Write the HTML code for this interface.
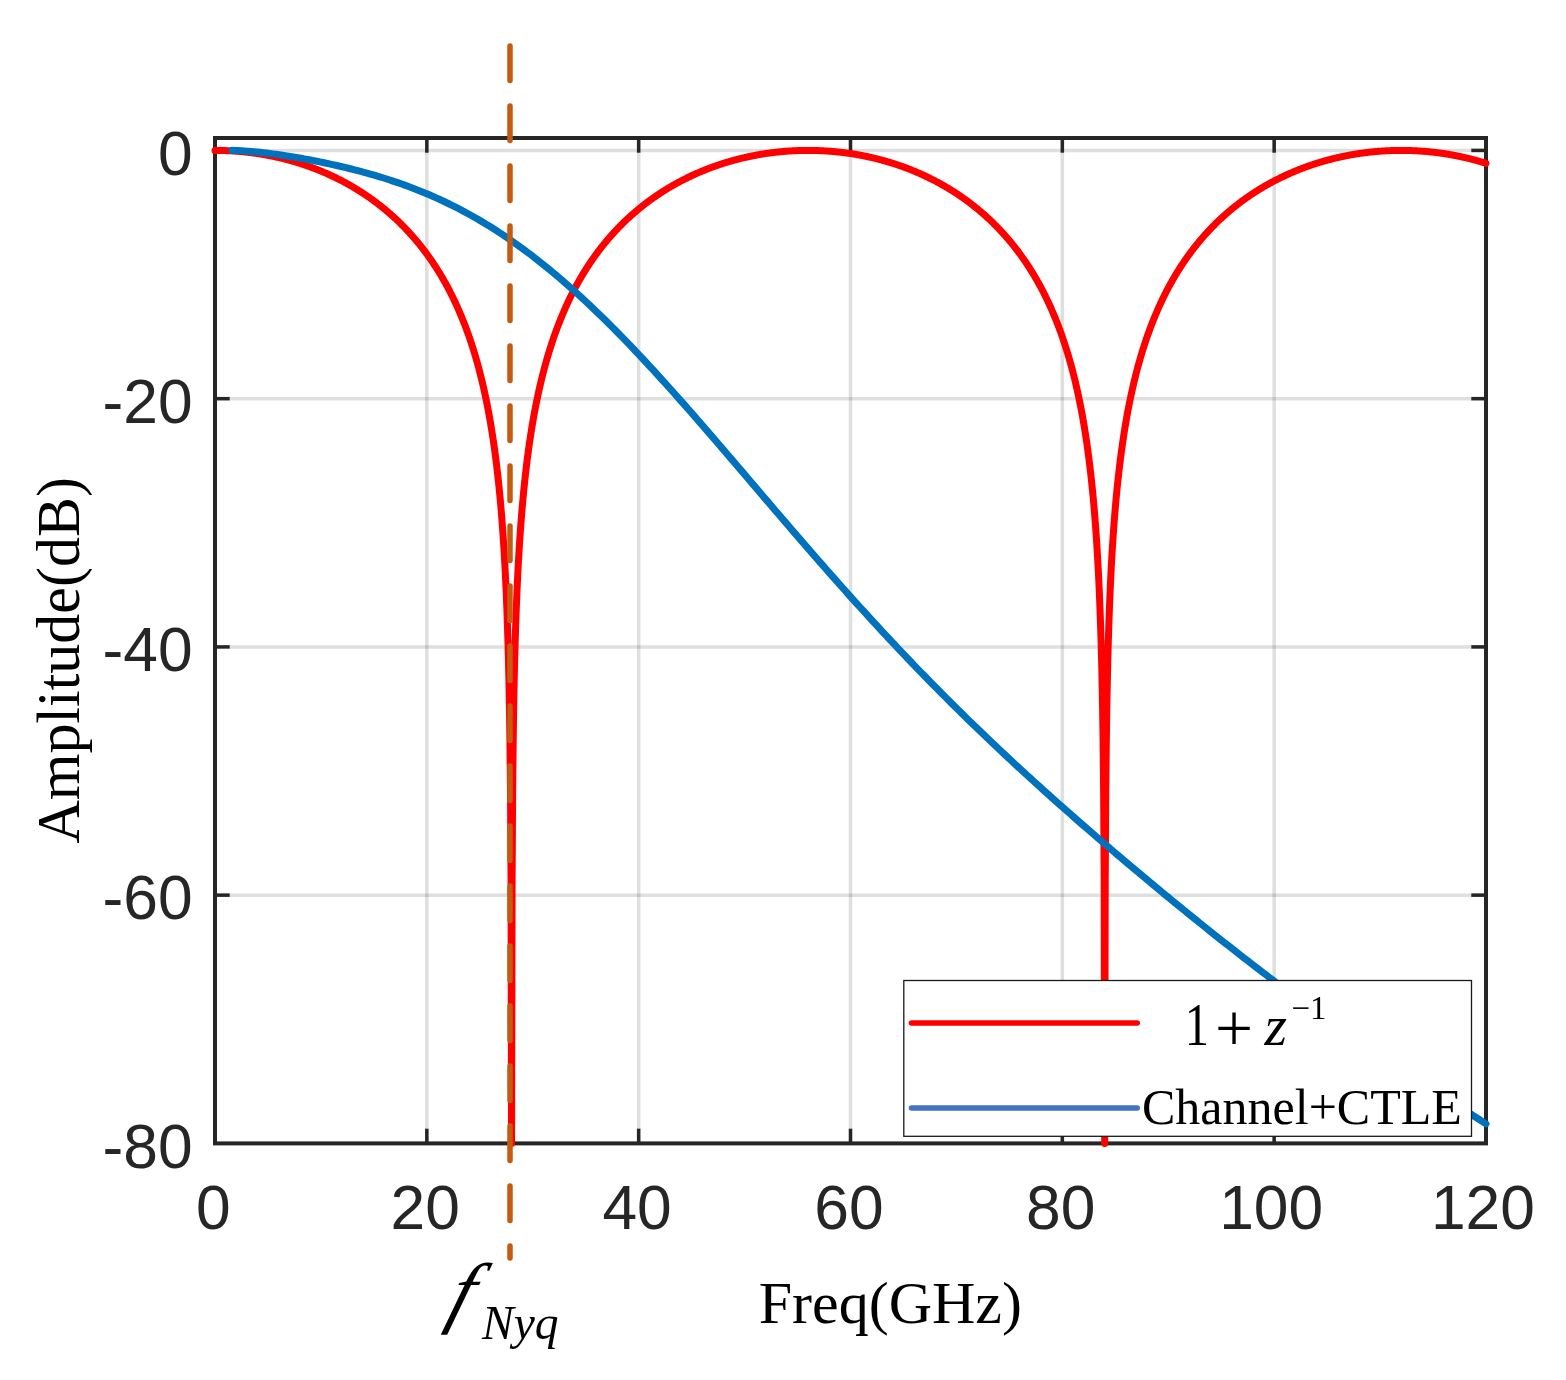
<!DOCTYPE html>
<html><head><meta charset="utf-8"><title>Frequency response</title>
<style>html,body{margin:0;padding:0;background:#fff}svg{display:block}</style></head>
<body>
<svg width="1566" height="1380" viewBox="0 0 1566 1380">
<rect width="1566" height="1380" fill="#fff"/>
<g stroke="rgba(38,38,38,0.15)" stroke-width="3.5" fill="none">
<line x1="426.83" y1="138.0" x2="426.83" y2="1143.4"/>
<line x1="638.67" y1="138.0" x2="638.67" y2="1143.4"/>
<line x1="850.50" y1="138.0" x2="850.50" y2="1143.4"/>
<line x1="1062.33" y1="138.0" x2="1062.33" y2="1143.4"/>
<line x1="1274.17" y1="138.0" x2="1274.17" y2="1143.4"/>
<line x1="215.0" y1="150.41" x2="1486.0" y2="150.41"/>
<line x1="215.0" y1="398.66" x2="1486.0" y2="398.66"/>
<line x1="215.0" y1="646.91" x2="1486.0" y2="646.91"/>
<line x1="215.0" y1="895.15" x2="1486.0" y2="895.15"/>
</g>
<g stroke="#262626" stroke-width="3.5" fill="none">
<line x1="426.83" y1="138.0" x2="426.83" y2="152.7"/>
<line x1="426.83" y1="1143.4" x2="426.83" y2="1128.7"/>
<line x1="638.67" y1="138.0" x2="638.67" y2="152.7"/>
<line x1="638.67" y1="1143.4" x2="638.67" y2="1128.7"/>
<line x1="850.50" y1="138.0" x2="850.50" y2="152.7"/>
<line x1="850.50" y1="1143.4" x2="850.50" y2="1128.7"/>
<line x1="1062.33" y1="138.0" x2="1062.33" y2="152.7"/>
<line x1="1062.33" y1="1143.4" x2="1062.33" y2="1128.7"/>
<line x1="1274.17" y1="138.0" x2="1274.17" y2="152.7"/>
<line x1="1274.17" y1="1143.4" x2="1274.17" y2="1128.7"/>
<line x1="215.0" y1="150.41" x2="229.7" y2="150.41"/>
<line x1="1486.0" y1="150.41" x2="1471.3" y2="150.41"/>
<line x1="215.0" y1="398.66" x2="229.7" y2="398.66"/>
<line x1="1486.0" y1="398.66" x2="1471.3" y2="398.66"/>
<line x1="215.0" y1="646.91" x2="229.7" y2="646.91"/>
<line x1="1486.0" y1="646.91" x2="1471.3" y2="646.91"/>
<line x1="215.0" y1="895.15" x2="229.7" y2="895.15"/>
<line x1="1486.0" y1="895.15" x2="1471.3" y2="895.15"/>
</g>
<rect x="215.0" y="138.0" width="1271.0" height="1005.4000000000001" fill="none" stroke="#262626" stroke-width="4"/>
<path d="M215.00,150.41 L215.53,150.41 L216.06,150.41 L216.59,150.42 L217.12,150.42 L217.65,150.42 L218.18,150.43 L218.71,150.44 L219.24,150.44 L219.77,150.45 L220.30,150.46 L220.83,150.47 L221.35,150.48 L221.88,150.49 L222.41,150.51 L222.94,150.52 L223.47,150.54 L224.00,150.55 L224.53,150.57 L225.06,150.59 L225.59,150.61 L226.12,150.63 L226.65,150.65 L227.18,150.67 L227.71,150.69 L228.24,150.72 L228.77,150.74 L229.30,150.77 L229.83,150.80 L230.36,150.82 L230.89,150.85 L231.42,150.88 L231.95,150.91 L232.48,150.94 L233.01,150.98 L233.54,151.01 L234.06,151.05 L234.59,151.08 L235.12,151.12 L235.65,151.16 L236.18,151.20 L236.71,151.23 L237.24,151.28 L237.77,151.32 L238.30,151.36 L238.83,151.40 L239.36,151.45 L239.89,151.49 L240.42,151.54 L240.95,151.59 L241.48,151.64 L242.01,151.69 L242.54,151.74 L243.07,151.79 L243.60,151.84 L244.13,151.90 L244.66,151.95 L245.19,152.01 L245.72,152.06 L246.25,152.12 L246.78,152.18 L247.30,152.24 L247.83,152.30 L248.36,152.36 L248.89,152.42 L249.42,152.49 L249.95,152.55 L250.48,152.62 L251.01,152.68 L251.54,152.75 L252.07,152.82 L252.60,152.89 L253.13,152.96 L253.66,153.03 L254.19,153.11 L254.72,153.18 L255.25,153.25 L255.78,153.33 L256.31,153.41 L256.84,153.49 L257.37,153.56 L257.90,153.64 L258.43,153.73 L258.96,153.81 L259.49,153.89 L260.01,153.97 L260.54,154.06 L261.07,154.15 L261.60,154.23 L262.13,154.32 L262.66,154.41 L263.19,154.50 L263.72,154.59 L264.25,154.68 L264.78,154.78 L265.31,154.87 L265.84,154.97 L266.37,155.06 L266.90,155.16 L267.43,155.26 L267.96,155.36 L268.49,155.46 L269.02,155.56 L269.55,155.67 L270.08,155.77 L270.61,155.88 L271.14,155.98 L271.67,156.09 L272.19,156.20 L272.72,156.31 L273.25,156.42 L273.78,156.53 L274.31,156.64 L274.84,156.75 L275.37,156.87 L275.90,156.99 L276.43,157.10 L276.96,157.22 L277.49,157.34 L278.02,157.46 L278.55,157.58 L279.08,157.70 L279.61,157.83 L280.14,157.95 L280.67,158.08 L281.20,158.20 L281.73,158.33 L282.26,158.46 L282.79,158.59 L283.32,158.72 L283.85,158.85 L284.38,158.99 L284.90,159.12 L285.43,159.26 L285.96,159.39 L286.49,159.53 L287.02,159.67 L287.55,159.81 L288.08,159.95 L288.61,160.10 L289.14,160.24 L289.67,160.38 L290.20,160.53 L290.73,160.68 L291.26,160.83 L291.79,160.98 L292.32,161.13 L292.85,161.28 L293.38,161.43 L293.91,161.58 L294.44,161.74 L294.97,161.90 L295.50,162.05 L296.03,162.21 L296.56,162.37 L297.09,162.53 L297.62,162.70 L298.14,162.86 L298.67,163.02 L299.20,163.19 L299.73,163.36 L300.26,163.52 L300.79,163.69 L301.32,163.86 L301.85,164.04 L302.38,164.21 L302.91,164.38 L303.44,164.56 L303.97,164.74 L304.50,164.91 L305.03,165.09 L305.56,165.27 L306.09,165.46 L306.62,165.64 L307.15,165.82 L307.68,166.01 L308.21,166.20 L308.74,166.38 L309.27,166.57 L309.80,166.76 L310.32,166.96 L310.85,167.15 L311.38,167.34 L311.91,167.54 L312.44,167.73 L312.97,167.93 L313.50,168.13 L314.03,168.33 L314.56,168.54 L315.09,168.74 L315.62,168.94 L316.15,169.15 L316.68,169.36 L317.21,169.57 L317.74,169.78 L318.27,169.99 L318.80,170.20 L319.33,170.41 L319.86,170.63 L320.39,170.85 L320.92,171.06 L321.45,171.28 L321.98,171.50 L322.51,171.73 L323.04,171.95 L323.56,172.18 L324.09,172.40 L324.62,172.63 L325.15,172.86 L325.68,173.09 L326.21,173.32 L326.74,173.55 L327.27,173.79 L327.80,174.02 L328.33,174.26 L328.86,174.50 L329.39,174.74 L329.92,174.98 L330.45,175.23 L330.98,175.47 L331.51,175.72 L332.04,175.97 L332.57,176.22 L333.10,176.47 L333.63,176.72 L334.16,176.97 L334.69,177.23 L335.22,177.48 L335.75,177.74 L336.27,178.00 L336.80,178.26 L337.33,178.53 L337.86,178.79 L338.39,179.06 L338.92,179.32 L339.45,179.59 L339.98,179.86 L340.51,180.14 L341.04,180.41 L341.57,180.68 L342.10,180.96 L342.63,181.24 L343.16,181.52 L343.69,181.80 L344.22,182.08 L344.75,182.37 L345.28,182.66 L345.81,182.94 L346.34,183.23 L346.87,183.53 L347.40,183.82 L347.93,184.11 L348.46,184.41 L348.98,184.71 L349.51,185.01 L350.04,185.31 L350.57,185.61 L351.10,185.92 L351.63,186.22 L352.16,186.53 L352.69,186.84 L353.22,187.16 L353.75,187.47 L354.28,187.79 L354.81,188.10 L355.34,188.42 L355.87,188.74 L356.40,189.07 L356.93,189.39 L357.46,189.72 L357.99,190.04 L358.52,190.37 L359.05,190.71 L359.58,191.04 L360.11,191.38 L360.64,191.71 L361.17,192.05 L361.69,192.39 L362.22,192.74 L362.75,193.08 L363.28,193.43 L363.81,193.78 L364.34,194.13 L364.87,194.48 L365.40,194.84 L365.93,195.20 L366.46,195.55 L366.99,195.92 L367.52,196.28 L368.05,196.64 L368.58,197.01 L369.11,197.38 L369.64,197.75 L370.17,198.13 L370.70,198.50 L371.23,198.88 L371.76,199.26 L372.29,199.64 L372.82,200.02 L373.35,200.41 L373.88,200.80 L374.40,201.19 L374.93,201.58 L375.46,201.98 L375.99,202.38 L376.52,202.78 L377.05,203.18 L377.58,203.58 L378.11,203.99 L378.64,204.40 L379.17,204.81 L379.70,205.22 L380.23,205.64 L380.76,206.06 L381.29,206.48 L381.82,206.90 L382.35,207.32 L382.88,207.75 L383.41,208.18 L383.94,208.62 L384.47,209.05 L385.00,209.49 L385.53,209.93 L386.06,210.37 L386.59,210.82 L387.11,211.27 L387.64,211.72 L388.17,212.17 L388.70,212.63 L389.23,213.08 L389.76,213.55 L390.29,214.01 L390.82,214.48 L391.35,214.95 L391.88,215.42 L392.41,215.89 L392.94,216.37 L393.47,216.85 L394.00,217.33 L394.53,217.82 L395.06,218.31 L395.59,218.80 L396.12,219.30 L396.65,219.80 L397.18,220.30 L397.71,220.80 L398.24,221.31 L398.77,221.82 L399.30,222.33 L399.82,222.85 L400.35,223.37 L400.88,223.89 L401.41,224.42 L401.94,224.94 L402.47,225.48 L403.00,226.01 L403.53,226.55 L404.06,227.09 L404.59,227.64 L405.12,228.19 L405.65,228.74 L406.18,229.30 L406.71,229.86 L407.24,230.42 L407.77,230.98 L408.30,231.55 L408.83,232.13 L409.36,232.71 L409.89,233.29 L410.42,233.87 L410.95,234.46 L411.48,235.05 L412.00,235.65 L412.53,236.25 L413.06,236.85 L413.59,237.46 L414.12,238.07 L414.65,238.69 L415.18,239.31 L415.71,239.93 L416.24,240.56 L416.77,241.19 L417.30,241.83 L417.83,242.47 L418.36,243.11 L418.89,243.76 L419.42,244.41 L419.95,245.07 L420.48,245.73 L421.01,246.40 L421.54,247.07 L422.07,247.75 L422.60,248.43 L423.13,249.12 L423.66,249.81 L424.19,250.50 L424.72,251.20 L425.24,251.91 L425.77,252.62 L426.30,253.33 L426.83,254.05 L427.36,254.78 L427.89,255.51 L428.42,256.25 L428.95,256.99 L429.48,257.73 L430.01,258.49 L430.54,259.24 L431.07,260.01 L431.60,260.78 L432.13,261.55 L432.66,262.33 L433.19,263.12 L433.72,263.91 L434.25,264.71 L434.78,265.52 L435.31,266.33 L435.84,267.15 L436.37,267.97 L436.90,268.80 L437.43,269.64 L437.95,270.48 L438.48,271.33 L439.01,272.19 L439.54,273.06 L440.07,273.93 L440.60,274.81 L441.13,275.69 L441.66,276.58 L442.19,277.49 L442.72,278.39 L443.25,279.31 L443.78,280.23 L444.31,281.16 L444.84,282.10 L445.37,283.05 L445.90,284.01 L446.43,284.97 L446.96,285.95 L447.49,286.93 L448.02,287.92 L448.55,288.92 L449.08,289.93 L449.61,290.94 L450.13,291.97 L450.66,293.01 L451.19,294.05 L451.72,295.11 L452.25,296.18 L452.78,297.25 L453.31,298.34 L453.84,299.44 L454.37,300.55 L454.90,301.67 L455.43,302.80 L455.96,303.94 L456.49,305.09 L457.02,306.26 L457.55,307.44 L458.08,308.63 L458.61,309.83 L459.14,311.04 L459.67,312.27 L460.20,313.51 L460.73,314.77 L461.26,316.04 L461.79,317.32 L462.32,318.61 L462.85,319.93 L463.37,321.25 L463.90,322.60 L464.43,323.95 L464.96,325.33 L465.49,326.72 L466.02,328.12 L466.55,329.55 L467.08,330.99 L467.61,332.45 L468.14,333.92 L468.67,335.42 L469.20,336.94 L469.73,338.47 L470.26,340.03 L470.79,341.60 L471.32,343.20 L471.85,344.82 L472.38,346.46 L472.91,348.13 L473.44,349.82 L473.97,351.53 L474.50,353.27 L475.03,355.03 L475.56,356.82 L476.08,358.64 L476.61,360.48 L477.14,362.35 L477.67,364.26 L478.20,366.19 L478.73,368.16 L479.26,370.16 L479.79,372.19 L480.32,374.25 L480.85,376.36 L481.38,378.50 L481.91,380.68 L482.44,382.89 L482.97,385.15 L483.50,387.46 L484.03,389.80 L484.56,392.20 L485.09,394.64 L485.62,397.13 L486.15,399.67 L486.68,402.27 L487.21,404.93 L487.74,407.64 L488.26,410.41 L488.79,413.25 L489.32,416.16 L489.85,419.14 L490.38,422.19 L490.91,425.32 L491.44,428.53 L491.97,431.83 L492.50,435.22 L493.03,438.70 L493.56,442.29 L494.09,445.98 L494.62,449.79 L495.15,453.72 L495.68,457.78 L496.21,461.98 L496.74,466.33 L497.27,470.83 L497.80,475.51 L498.33,480.37 L498.86,485.43 L499.39,490.70 L499.92,496.21 L500.45,501.98 L500.98,508.03 L501.50,514.39 L502.03,521.10 L502.56,528.18 L503.09,535.70 L503.62,543.71 L504.15,552.27 L504.68,561.46 L505.21,571.39 L505.74,582.19 L506.27,594.02 L506.80,607.09 L507.33,621.71 L507.86,638.28 L508.39,657.41 L508.92,680.04 L509.45,707.74 L509.98,743.44 L510.51,793.77 L511.04,879.81 L511.57,1143.40 L512.10,879.81 L512.63,793.77 L513.16,743.44 L513.69,707.74 L514.21,680.04 L514.74,657.41 L515.27,638.28 L515.80,621.71 L516.33,607.09 L516.86,594.02 L517.39,582.19 L517.92,571.39 L518.45,561.46 L518.98,552.27 L519.51,543.71 L520.04,535.70 L520.57,528.18 L521.10,521.10 L521.63,514.39 L522.16,508.03 L522.69,501.98 L523.22,496.21 L523.75,490.70 L524.28,485.43 L524.81,480.37 L525.34,475.51 L525.87,470.83 L526.39,466.33 L526.92,461.98 L527.45,457.78 L527.98,453.72 L528.51,449.79 L529.04,445.98 L529.57,442.29 L530.10,438.70 L530.63,435.22 L531.16,431.83 L531.69,428.53 L532.22,425.32 L532.75,422.19 L533.28,419.14 L533.81,416.16 L534.34,413.25 L534.87,410.41 L535.40,407.64 L535.93,404.93 L536.46,402.27 L536.99,399.67 L537.52,397.13 L538.05,394.64 L538.58,392.20 L539.11,389.80 L539.63,387.46 L540.16,385.15 L540.69,382.89 L541.22,380.68 L541.75,378.50 L542.28,376.36 L542.81,374.25 L543.34,372.19 L543.87,370.16 L544.40,368.16 L544.93,366.19 L545.46,364.26 L545.99,362.35 L546.52,360.48 L547.05,358.64 L547.58,356.82 L548.11,355.03 L548.64,353.27 L549.17,351.53 L549.70,349.82 L550.23,348.13 L550.76,346.46 L551.29,344.82 L551.82,343.20 L552.34,341.60 L552.87,340.03 L553.40,338.47 L553.93,336.94 L554.46,335.42 L554.99,333.92 L555.52,332.45 L556.05,330.99 L556.58,329.55 L557.11,328.12 L557.64,326.72 L558.17,325.33 L558.70,323.95 L559.23,322.60 L559.76,321.25 L560.29,319.93 L560.82,318.61 L561.35,317.32 L561.88,316.04 L562.41,314.77 L562.94,313.51 L563.47,312.27 L564.00,311.04 L564.52,309.83 L565.05,308.63 L565.58,307.44 L566.11,306.26 L566.64,305.09 L567.17,303.94 L567.70,302.80 L568.23,301.67 L568.76,300.55 L569.29,299.44 L569.82,298.34 L570.35,297.25 L570.88,296.18 L571.41,295.11 L571.94,294.05 L572.47,293.01 L573.00,291.97 L573.53,290.94 L574.06,289.93 L574.59,288.92 L575.12,287.92 L575.65,286.93 L576.18,285.95 L576.71,284.97 L577.24,284.01 L577.76,283.05 L578.29,282.10 L578.82,281.16 L579.35,280.23 L579.88,279.31 L580.41,278.39 L580.94,277.49 L581.47,276.58 L582.00,275.69 L582.53,274.81 L583.06,273.93 L583.59,273.06 L584.12,272.19 L584.65,271.33 L585.18,270.48 L585.71,269.64 L586.24,268.80 L586.77,267.97 L587.30,267.15 L587.83,266.33 L588.36,265.52 L588.89,264.71 L589.42,263.91 L589.94,263.12 L590.47,262.33 L591.00,261.55 L591.53,260.78 L592.06,260.01 L592.59,259.24 L593.12,258.49 L593.65,257.73 L594.18,256.99 L594.71,256.25 L595.24,255.51 L595.77,254.78 L596.30,254.05 L596.83,253.33 L597.36,252.62 L597.89,251.91 L598.42,251.20 L598.95,250.50 L599.48,249.81 L600.01,249.12 L600.54,248.43 L601.07,247.75 L601.60,247.07 L602.13,246.40 L602.65,245.73 L603.18,245.07 L603.71,244.41 L604.24,243.76 L604.77,243.11 L605.30,242.47 L605.83,241.83 L606.36,241.19 L606.89,240.56 L607.42,239.93 L607.95,239.31 L608.48,238.69 L609.01,238.07 L609.54,237.46 L610.07,236.85 L610.60,236.25 L611.13,235.65 L611.66,235.05 L612.19,234.46 L612.72,233.87 L613.25,233.29 L613.78,232.71 L614.31,232.13 L614.84,231.55 L615.37,230.98 L615.89,230.42 L616.42,229.86 L616.95,229.30 L617.48,228.74 L618.01,228.19 L618.54,227.64 L619.07,227.09 L619.60,226.55 L620.13,226.01 L620.66,225.48 L621.19,224.94 L621.72,224.42 L622.25,223.89 L622.78,223.37 L623.31,222.85 L623.84,222.33 L624.37,221.82 L624.90,221.31 L625.43,220.80 L625.96,220.30 L626.49,219.80 L627.02,219.30 L627.55,218.80 L628.08,218.31 L628.60,217.82 L629.13,217.33 L629.66,216.85 L630.19,216.37 L630.72,215.89 L631.25,215.42 L631.78,214.95 L632.31,214.48 L632.84,214.01 L633.37,213.55 L633.90,213.08 L634.43,212.63 L634.96,212.17 L635.49,211.72 L636.02,211.27 L636.55,210.82 L637.08,210.37 L637.61,209.93 L638.14,209.49 L638.67,209.05 L639.20,208.62 L639.73,208.18 L640.26,207.75 L640.79,207.32 L641.31,206.90 L641.84,206.48 L642.37,206.06 L642.90,205.64 L643.43,205.22 L643.96,204.81 L644.49,204.40 L645.02,203.99 L645.55,203.58 L646.08,203.18 L646.61,202.78 L647.14,202.38 L647.67,201.98 L648.20,201.58 L648.73,201.19 L649.26,200.80 L649.79,200.41 L650.32,200.02 L650.85,199.64 L651.38,199.26 L651.91,198.88 L652.44,198.50 L652.97,198.13 L653.50,197.75 L654.02,197.38 L654.55,197.01 L655.08,196.64 L655.61,196.28 L656.14,195.92 L656.67,195.55 L657.20,195.20 L657.73,194.84 L658.26,194.48 L658.79,194.13 L659.32,193.78 L659.85,193.43 L660.38,193.08 L660.91,192.74 L661.44,192.39 L661.97,192.05 L662.50,191.71 L663.03,191.38 L663.56,191.04 L664.09,190.71 L664.62,190.37 L665.15,190.04 L665.68,189.72 L666.21,189.39 L666.73,189.07 L667.26,188.74 L667.79,188.42 L668.32,188.10 L668.85,187.79 L669.38,187.47 L669.91,187.16 L670.44,186.84 L670.97,186.53 L671.50,186.22 L672.03,185.92 L672.56,185.61 L673.09,185.31 L673.62,185.01 L674.15,184.71 L674.68,184.41 L675.21,184.11 L675.74,183.82 L676.27,183.53 L676.80,183.23 L677.33,182.94 L677.86,182.66 L678.39,182.37 L678.92,182.08 L679.44,181.80 L679.97,181.52 L680.50,181.24 L681.03,180.96 L681.56,180.68 L682.09,180.41 L682.62,180.14 L683.15,179.86 L683.68,179.59 L684.21,179.32 L684.74,179.06 L685.27,178.79 L685.80,178.53 L686.33,178.26 L686.86,178.00 L687.39,177.74 L687.92,177.48 L688.45,177.23 L688.98,176.97 L689.51,176.72 L690.04,176.47 L690.57,176.22 L691.10,175.97 L691.62,175.72 L692.15,175.47 L692.68,175.23 L693.21,174.98 L693.74,174.74 L694.27,174.50 L694.80,174.26 L695.33,174.02 L695.86,173.79 L696.39,173.55 L696.92,173.32 L697.45,173.09 L697.98,172.86 L698.51,172.63 L699.04,172.40 L699.57,172.18 L700.10,171.95 L700.63,171.73 L701.16,171.50 L701.69,171.28 L702.22,171.06 L702.75,170.85 L703.28,170.63 L703.81,170.41 L704.34,170.20 L704.86,169.99 L705.39,169.78 L705.92,169.57 L706.45,169.36 L706.98,169.15 L707.51,168.94 L708.04,168.74 L708.57,168.54 L709.10,168.33 L709.63,168.13 L710.16,167.93 L710.69,167.73 L711.22,167.54 L711.75,167.34 L712.28,167.15 L712.81,166.96 L713.34,166.76 L713.87,166.57 L714.40,166.38 L714.93,166.20 L715.46,166.01 L715.99,165.82 L716.52,165.64 L717.05,165.46 L717.57,165.27 L718.10,165.09 L718.63,164.91 L719.16,164.74 L719.69,164.56 L720.22,164.38 L720.75,164.21 L721.28,164.04 L721.81,163.86 L722.34,163.69 L722.87,163.52 L723.40,163.36 L723.93,163.19 L724.46,163.02 L724.99,162.86 L725.52,162.70 L726.05,162.53 L726.58,162.37 L727.11,162.21 L727.64,162.05 L728.17,161.90 L728.70,161.74 L729.23,161.58 L729.75,161.43 L730.28,161.28 L730.81,161.13 L731.34,160.98 L731.87,160.83 L732.40,160.68 L732.93,160.53 L733.46,160.38 L733.99,160.24 L734.52,160.10 L735.05,159.95 L735.58,159.81 L736.11,159.67 L736.64,159.53 L737.17,159.39 L737.70,159.26 L738.23,159.12 L738.76,158.99 L739.29,158.85 L739.82,158.72 L740.35,158.59 L740.88,158.46 L741.41,158.33 L741.94,158.20 L742.47,158.08 L742.99,157.95 L743.52,157.83 L744.05,157.70 L744.58,157.58 L745.11,157.46 L745.64,157.34 L746.17,157.22 L746.70,157.10 L747.23,156.99 L747.76,156.87 L748.29,156.75 L748.82,156.64 L749.35,156.53 L749.88,156.42 L750.41,156.31 L750.94,156.20 L751.47,156.09 L752.00,155.98 L752.53,155.88 L753.06,155.77 L753.59,155.67 L754.12,155.56 L754.65,155.46 L755.17,155.36 L755.70,155.26 L756.23,155.16 L756.76,155.06 L757.29,154.97 L757.82,154.87 L758.35,154.78 L758.88,154.68 L759.41,154.59 L759.94,154.50 L760.47,154.41 L761.00,154.32 L761.53,154.23 L762.06,154.15 L762.59,154.06 L763.12,153.97 L763.65,153.89 L764.18,153.81 L764.71,153.73 L765.24,153.64 L765.77,153.56 L766.30,153.49 L766.83,153.41 L767.36,153.33 L767.88,153.25 L768.41,153.18 L768.94,153.11 L769.47,153.03 L770.00,152.96 L770.53,152.89 L771.06,152.82 L771.59,152.75 L772.12,152.68 L772.65,152.62 L773.18,152.55 L773.71,152.49 L774.24,152.42 L774.77,152.36 L775.30,152.30 L775.83,152.24 L776.36,152.18 L776.89,152.12 L777.42,152.06 L777.95,152.01 L778.48,151.95 L779.01,151.90 L779.54,151.84 L780.07,151.79 L780.60,151.74 L781.12,151.69 L781.65,151.64 L782.18,151.59 L782.71,151.54 L783.24,151.49 L783.77,151.45 L784.30,151.40 L784.83,151.36 L785.36,151.32 L785.89,151.28 L786.42,151.23 L786.95,151.20 L787.48,151.16 L788.01,151.12 L788.54,151.08 L789.07,151.05 L789.60,151.01 L790.13,150.98 L790.66,150.94 L791.19,150.91 L791.72,150.88 L792.25,150.85 L792.78,150.82 L793.31,150.80 L793.83,150.77 L794.36,150.74 L794.89,150.72 L795.42,150.69 L795.95,150.67 L796.48,150.65 L797.01,150.63 L797.54,150.61 L798.07,150.59 L798.60,150.57 L799.13,150.55 L799.66,150.54 L800.19,150.52 L800.72,150.51 L801.25,150.49 L801.78,150.48 L802.31,150.47 L802.84,150.46 L803.37,150.45 L803.90,150.44 L804.43,150.44 L804.96,150.43 L805.49,150.42 L806.02,150.42 L806.54,150.42 L807.07,150.41 L807.60,150.41 L808.13,150.41 L808.66,150.41 L809.19,150.41 L809.72,150.42 L810.25,150.42 L810.78,150.42 L811.31,150.43 L811.84,150.44 L812.37,150.44 L812.90,150.45 L813.43,150.46 L813.96,150.47 L814.49,150.48 L815.02,150.49 L815.55,150.51 L816.08,150.52 L816.61,150.54 L817.14,150.55 L817.67,150.57 L818.20,150.59 L818.73,150.61 L819.25,150.63 L819.78,150.65 L820.31,150.67 L820.84,150.69 L821.37,150.72 L821.90,150.74 L822.43,150.77 L822.96,150.80 L823.49,150.82 L824.02,150.85 L824.55,150.88 L825.08,150.91 L825.61,150.94 L826.14,150.98 L826.67,151.01 L827.20,151.05 L827.73,151.08 L828.26,151.12 L828.79,151.16 L829.32,151.20 L829.85,151.23 L830.38,151.28 L830.91,151.32 L831.44,151.36 L831.96,151.40 L832.49,151.45 L833.02,151.49 L833.55,151.54 L834.08,151.59 L834.61,151.64 L835.14,151.69 L835.67,151.74 L836.20,151.79 L836.73,151.84 L837.26,151.90 L837.79,151.95 L838.32,152.01 L838.85,152.06 L839.38,152.12 L839.91,152.18 L840.44,152.24 L840.97,152.30 L841.50,152.36 L842.03,152.42 L842.56,152.49 L843.09,152.55 L843.62,152.62 L844.15,152.68 L844.67,152.75 L845.20,152.82 L845.73,152.89 L846.26,152.96 L846.79,153.03 L847.32,153.11 L847.85,153.18 L848.38,153.25 L848.91,153.33 L849.44,153.41 L849.97,153.49 L850.50,153.56 L851.03,153.64 L851.56,153.73 L852.09,153.81 L852.62,153.89 L853.15,153.97 L853.68,154.06 L854.21,154.15 L854.74,154.23 L855.27,154.32 L855.80,154.41 L856.33,154.50 L856.86,154.59 L857.38,154.68 L857.91,154.78 L858.44,154.87 L858.97,154.97 L859.50,155.06 L860.03,155.16 L860.56,155.26 L861.09,155.36 L861.62,155.46 L862.15,155.56 L862.68,155.67 L863.21,155.77 L863.74,155.88 L864.27,155.98 L864.80,156.09 L865.33,156.20 L865.86,156.31 L866.39,156.42 L866.92,156.53 L867.45,156.64 L867.98,156.75 L868.51,156.87 L869.04,156.99 L869.57,157.10 L870.09,157.22 L870.62,157.34 L871.15,157.46 L871.68,157.58 L872.21,157.70 L872.74,157.83 L873.27,157.95 L873.80,158.08 L874.33,158.20 L874.86,158.33 L875.39,158.46 L875.92,158.59 L876.45,158.72 L876.98,158.85 L877.51,158.99 L878.04,159.12 L878.57,159.26 L879.10,159.39 L879.63,159.53 L880.16,159.67 L880.69,159.81 L881.22,159.95 L881.75,160.10 L882.27,160.24 L882.80,160.38 L883.33,160.53 L883.86,160.68 L884.39,160.83 L884.92,160.98 L885.45,161.13 L885.98,161.28 L886.51,161.43 L887.04,161.58 L887.57,161.74 L888.10,161.90 L888.63,162.05 L889.16,162.21 L889.69,162.37 L890.22,162.53 L890.75,162.70 L891.28,162.86 L891.81,163.02 L892.34,163.19 L892.87,163.36 L893.40,163.52 L893.93,163.69 L894.46,163.86 L894.99,164.04 L895.51,164.21 L896.04,164.38 L896.57,164.56 L897.10,164.74 L897.63,164.91 L898.16,165.09 L898.69,165.27 L899.22,165.46 L899.75,165.64 L900.28,165.82 L900.81,166.01 L901.34,166.20 L901.87,166.38 L902.40,166.57 L902.93,166.76 L903.46,166.96 L903.99,167.15 L904.52,167.34 L905.05,167.54 L905.58,167.73 L906.11,167.93 L906.64,168.13 L907.17,168.33 L907.70,168.54 L908.22,168.74 L908.75,168.94 L909.28,169.15 L909.81,169.36 L910.34,169.57 L910.87,169.78 L911.40,169.99 L911.93,170.20 L912.46,170.41 L912.99,170.63 L913.52,170.85 L914.05,171.06 L914.58,171.28 L915.11,171.50 L915.64,171.73 L916.17,171.95 L916.70,172.18 L917.23,172.40 L917.76,172.63 L918.29,172.86 L918.82,173.09 L919.35,173.32 L919.88,173.55 L920.41,173.79 L920.93,174.02 L921.46,174.26 L921.99,174.50 L922.52,174.74 L923.05,174.98 L923.58,175.23 L924.11,175.47 L924.64,175.72 L925.17,175.97 L925.70,176.22 L926.23,176.47 L926.76,176.72 L927.29,176.97 L927.82,177.23 L928.35,177.48 L928.88,177.74 L929.41,178.00 L929.94,178.26 L930.47,178.53 L931.00,178.79 L931.53,179.06 L932.06,179.32 L932.59,179.59 L933.12,179.86 L933.64,180.14 L934.17,180.41 L934.70,180.68 L935.23,180.96 L935.76,181.24 L936.29,181.52 L936.82,181.80 L937.35,182.08 L937.88,182.37 L938.41,182.66 L938.94,182.94 L939.47,183.23 L940.00,183.53 L940.53,183.82 L941.06,184.11 L941.59,184.41 L942.12,184.71 L942.65,185.01 L943.18,185.31 L943.71,185.61 L944.24,185.92 L944.77,186.22 L945.30,186.53 L945.83,186.84 L946.35,187.16 L946.88,187.47 L947.41,187.79 L947.94,188.10 L948.47,188.42 L949.00,188.74 L949.53,189.07 L950.06,189.39 L950.59,189.72 L951.12,190.04 L951.65,190.37 L952.18,190.71 L952.71,191.04 L953.24,191.38 L953.77,191.71 L954.30,192.05 L954.83,192.39 L955.36,192.74 L955.89,193.08 L956.42,193.43 L956.95,193.78 L957.48,194.13 L958.01,194.48 L958.54,194.84 L959.06,195.20 L959.59,195.55 L960.12,195.92 L960.65,196.28 L961.18,196.64 L961.71,197.01 L962.24,197.38 L962.77,197.75 L963.30,198.13 L963.83,198.50 L964.36,198.88 L964.89,199.26 L965.42,199.64 L965.95,200.02 L966.48,200.41 L967.01,200.80 L967.54,201.19 L968.07,201.58 L968.60,201.98 L969.13,202.38 L969.66,202.78 L970.19,203.18 L970.72,203.58 L971.25,203.99 L971.77,204.40 L972.30,204.81 L972.83,205.22 L973.36,205.64 L973.89,206.06 L974.42,206.48 L974.95,206.90 L975.48,207.32 L976.01,207.75 L976.54,208.18 L977.07,208.62 L977.60,209.05 L978.13,209.49 L978.66,209.93 L979.19,210.37 L979.72,210.82 L980.25,211.27 L980.78,211.72 L981.31,212.17 L981.84,212.63 L982.37,213.08 L982.90,213.55 L983.43,214.01 L983.96,214.48 L984.48,214.95 L985.01,215.42 L985.54,215.89 L986.07,216.37 L986.60,216.85 L987.13,217.33 L987.66,217.82 L988.19,218.31 L988.72,218.80 L989.25,219.30 L989.78,219.80 L990.31,220.30 L990.84,220.80 L991.37,221.31 L991.90,221.82 L992.43,222.33 L992.96,222.85 L993.49,223.37 L994.02,223.89 L994.55,224.42 L995.08,224.94 L995.61,225.48 L996.14,226.01 L996.66,226.55 L997.19,227.09 L997.72,227.64 L998.25,228.19 L998.78,228.74 L999.31,229.30 L999.84,229.86 L1000.37,230.42 L1000.90,230.98 L1001.43,231.55 L1001.96,232.13 L1002.49,232.71 L1003.02,233.29 L1003.55,233.87 L1004.08,234.46 L1004.61,235.05 L1005.14,235.65 L1005.67,236.25 L1006.20,236.85 L1006.73,237.46 L1007.26,238.07 L1007.79,238.69 L1008.32,239.31 L1008.85,239.93 L1009.38,240.56 L1009.90,241.19 L1010.43,241.83 L1010.96,242.47 L1011.49,243.11 L1012.02,243.76 L1012.55,244.41 L1013.08,245.07 L1013.61,245.73 L1014.14,246.40 L1014.67,247.07 L1015.20,247.75 L1015.73,248.43 L1016.26,249.12 L1016.79,249.81 L1017.32,250.50 L1017.85,251.20 L1018.38,251.91 L1018.91,252.62 L1019.44,253.33 L1019.97,254.05 L1020.50,254.78 L1021.03,255.51 L1021.56,256.25 L1022.09,256.99 L1022.61,257.73 L1023.14,258.49 L1023.67,259.24 L1024.20,260.01 L1024.73,260.78 L1025.26,261.55 L1025.79,262.33 L1026.32,263.12 L1026.85,263.91 L1027.38,264.71 L1027.91,265.52 L1028.44,266.33 L1028.97,267.15 L1029.50,267.97 L1030.03,268.80 L1030.56,269.64 L1031.09,270.48 L1031.62,271.33 L1032.15,272.19 L1032.68,273.06 L1033.21,273.93 L1033.74,274.81 L1034.27,275.69 L1034.80,276.58 L1035.32,277.49 L1035.85,278.39 L1036.38,279.31 L1036.91,280.23 L1037.44,281.16 L1037.97,282.10 L1038.50,283.05 L1039.03,284.01 L1039.56,284.97 L1040.09,285.95 L1040.62,286.93 L1041.15,287.92 L1041.68,288.92 L1042.21,289.93 L1042.74,290.94 L1043.27,291.97 L1043.80,293.01 L1044.33,294.05 L1044.86,295.11 L1045.39,296.18 L1045.92,297.25 L1046.45,298.34 L1046.98,299.44 L1047.51,300.55 L1048.03,301.67 L1048.56,302.80 L1049.09,303.94 L1049.62,305.09 L1050.15,306.26 L1050.68,307.44 L1051.21,308.63 L1051.74,309.83 L1052.27,311.04 L1052.80,312.27 L1053.33,313.51 L1053.86,314.77 L1054.39,316.04 L1054.92,317.32 L1055.45,318.61 L1055.98,319.93 L1056.51,321.25 L1057.04,322.60 L1057.57,323.95 L1058.10,325.33 L1058.63,326.72 L1059.16,328.12 L1059.69,329.55 L1060.22,330.99 L1060.74,332.45 L1061.27,333.92 L1061.80,335.42 L1062.33,336.94 L1062.86,338.47 L1063.39,340.03 L1063.92,341.60 L1064.45,343.20 L1064.98,344.82 L1065.51,346.46 L1066.04,348.13 L1066.57,349.82 L1067.10,351.53 L1067.63,353.27 L1068.16,355.03 L1068.69,356.82 L1069.22,358.64 L1069.75,360.48 L1070.28,362.35 L1070.81,364.26 L1071.34,366.19 L1071.87,368.16 L1072.40,370.16 L1072.92,372.19 L1073.45,374.25 L1073.98,376.36 L1074.51,378.50 L1075.04,380.68 L1075.57,382.89 L1076.10,385.15 L1076.63,387.46 L1077.16,389.80 L1077.69,392.20 L1078.22,394.64 L1078.75,397.13 L1079.28,399.67 L1079.81,402.27 L1080.34,404.93 L1080.87,407.64 L1081.40,410.41 L1081.93,413.25 L1082.46,416.16 L1082.99,419.14 L1083.52,422.19 L1084.05,425.32 L1084.58,428.53 L1085.11,431.83 L1085.63,435.22 L1086.16,438.70 L1086.69,442.29 L1087.22,445.98 L1087.75,449.79 L1088.28,453.72 L1088.81,457.78 L1089.34,461.98 L1089.87,466.33 L1090.40,470.83 L1090.93,475.51 L1091.46,480.37 L1091.99,485.43 L1092.52,490.70 L1093.05,496.21 L1093.58,501.98 L1094.11,508.03 L1094.64,514.39 L1095.17,521.10 L1095.70,528.18 L1096.23,535.70 L1096.76,543.71 L1097.29,552.27 L1097.82,561.46 L1098.35,571.39 L1098.87,582.19 L1099.40,594.02 L1099.93,607.09 L1100.46,621.71 L1100.99,638.28 L1101.52,657.41 L1102.05,680.04 L1102.58,707.74 L1103.11,743.44 L1103.64,793.77 L1104.17,879.81 L1104.70,1143.40 L1105.23,879.81 L1105.76,793.77 L1106.29,743.44 L1106.82,707.74 L1107.35,680.04 L1107.88,657.41 L1108.41,638.28 L1108.94,621.71 L1109.47,607.09 L1110.00,594.02 L1110.53,582.19 L1111.06,571.39 L1111.58,561.46 L1112.11,552.27 L1112.64,543.71 L1113.17,535.70 L1113.70,528.18 L1114.23,521.10 L1114.76,514.39 L1115.29,508.03 L1115.82,501.98 L1116.35,496.21 L1116.88,490.70 L1117.41,485.43 L1117.94,480.37 L1118.47,475.51 L1119.00,470.83 L1119.53,466.33 L1120.06,461.98 L1120.59,457.78 L1121.12,453.72 L1121.65,449.79 L1122.18,445.98 L1122.71,442.29 L1123.24,438.70 L1123.77,435.22 L1124.29,431.83 L1124.82,428.53 L1125.35,425.32 L1125.88,422.19 L1126.41,419.14 L1126.94,416.16 L1127.47,413.25 L1128.00,410.41 L1128.53,407.64 L1129.06,404.93 L1129.59,402.27 L1130.12,399.67 L1130.65,397.13 L1131.18,394.64 L1131.71,392.20 L1132.24,389.80 L1132.77,387.46 L1133.30,385.15 L1133.83,382.89 L1134.36,380.68 L1134.89,378.50 L1135.42,376.36 L1135.95,374.25 L1136.47,372.19 L1137.00,370.16 L1137.53,368.16 L1138.06,366.19 L1138.59,364.26 L1139.12,362.35 L1139.65,360.48 L1140.18,358.64 L1140.71,356.82 L1141.24,355.03 L1141.77,353.27 L1142.30,351.53 L1142.83,349.82 L1143.36,348.13 L1143.89,346.46 L1144.42,344.82 L1144.95,343.20 L1145.48,341.60 L1146.01,340.03 L1146.54,338.47 L1147.07,336.94 L1147.60,335.42 L1148.13,333.92 L1148.66,332.45 L1149.18,330.99 L1149.71,329.55 L1150.24,328.12 L1150.77,326.72 L1151.30,325.33 L1151.83,323.95 L1152.36,322.60 L1152.89,321.25 L1153.42,319.93 L1153.95,318.61 L1154.48,317.32 L1155.01,316.04 L1155.54,314.77 L1156.07,313.51 L1156.60,312.27 L1157.13,311.04 L1157.66,309.83 L1158.19,308.63 L1158.72,307.44 L1159.25,306.26 L1159.78,305.09 L1160.31,303.94 L1160.84,302.80 L1161.37,301.67 L1161.89,300.55 L1162.42,299.44 L1162.95,298.34 L1163.48,297.25 L1164.01,296.18 L1164.54,295.11 L1165.07,294.05 L1165.60,293.01 L1166.13,291.97 L1166.66,290.94 L1167.19,289.93 L1167.72,288.92 L1168.25,287.92 L1168.78,286.93 L1169.31,285.95 L1169.84,284.97 L1170.37,284.01 L1170.90,283.05 L1171.43,282.10 L1171.96,281.16 L1172.49,280.23 L1173.02,279.31 L1173.55,278.39 L1174.08,277.49 L1174.61,276.58 L1175.13,275.69 L1175.66,274.81 L1176.19,273.93 L1176.72,273.06 L1177.25,272.19 L1177.78,271.33 L1178.31,270.48 L1178.84,269.64 L1179.37,268.80 L1179.90,267.97 L1180.43,267.15 L1180.96,266.33 L1181.49,265.52 L1182.02,264.71 L1182.55,263.91 L1183.08,263.12 L1183.61,262.33 L1184.14,261.55 L1184.67,260.78 L1185.20,260.01 L1185.73,259.24 L1186.26,258.49 L1186.79,257.73 L1187.32,256.99 L1187.84,256.25 L1188.37,255.51 L1188.90,254.78 L1189.43,254.05 L1189.96,253.33 L1190.49,252.62 L1191.02,251.91 L1191.55,251.20 L1192.08,250.50 L1192.61,249.81 L1193.14,249.12 L1193.67,248.43 L1194.20,247.75 L1194.73,247.07 L1195.26,246.40 L1195.79,245.73 L1196.32,245.07 L1196.85,244.41 L1197.38,243.76 L1197.91,243.11 L1198.44,242.47 L1198.97,241.83 L1199.50,241.19 L1200.03,240.56 L1200.55,239.93 L1201.08,239.31 L1201.61,238.69 L1202.14,238.07 L1202.67,237.46 L1203.20,236.85 L1203.73,236.25 L1204.26,235.65 L1204.79,235.05 L1205.32,234.46 L1205.85,233.87 L1206.38,233.29 L1206.91,232.71 L1207.44,232.13 L1207.97,231.55 L1208.50,230.98 L1209.03,230.42 L1209.56,229.86 L1210.09,229.30 L1210.62,228.74 L1211.15,228.19 L1211.68,227.64 L1212.21,227.09 L1212.74,226.55 L1213.26,226.01 L1213.79,225.48 L1214.32,224.94 L1214.85,224.42 L1215.38,223.89 L1215.91,223.37 L1216.44,222.85 L1216.97,222.33 L1217.50,221.82 L1218.03,221.31 L1218.56,220.80 L1219.09,220.30 L1219.62,219.80 L1220.15,219.30 L1220.68,218.80 L1221.21,218.31 L1221.74,217.82 L1222.27,217.33 L1222.80,216.85 L1223.33,216.37 L1223.86,215.89 L1224.39,215.42 L1224.92,214.95 L1225.45,214.48 L1225.97,214.01 L1226.50,213.55 L1227.03,213.08 L1227.56,212.63 L1228.09,212.17 L1228.62,211.72 L1229.15,211.27 L1229.68,210.82 L1230.21,210.37 L1230.74,209.93 L1231.27,209.49 L1231.80,209.05 L1232.33,208.62 L1232.86,208.18 L1233.39,207.75 L1233.92,207.32 L1234.45,206.90 L1234.98,206.48 L1235.51,206.06 L1236.04,205.64 L1236.57,205.22 L1237.10,204.81 L1237.63,204.40 L1238.16,203.99 L1238.68,203.58 L1239.21,203.18 L1239.74,202.78 L1240.27,202.38 L1240.80,201.98 L1241.33,201.58 L1241.86,201.19 L1242.39,200.80 L1242.92,200.41 L1243.45,200.02 L1243.98,199.64 L1244.51,199.26 L1245.04,198.88 L1245.57,198.50 L1246.10,198.13 L1246.63,197.75 L1247.16,197.38 L1247.69,197.01 L1248.22,196.64 L1248.75,196.28 L1249.28,195.92 L1249.81,195.55 L1250.34,195.20 L1250.87,194.84 L1251.39,194.48 L1251.92,194.13 L1252.45,193.78 L1252.98,193.43 L1253.51,193.08 L1254.04,192.74 L1254.57,192.39 L1255.10,192.05 L1255.63,191.71 L1256.16,191.38 L1256.69,191.04 L1257.22,190.71 L1257.75,190.37 L1258.28,190.04 L1258.81,189.72 L1259.34,189.39 L1259.87,189.07 L1260.40,188.74 L1260.93,188.42 L1261.46,188.10 L1261.99,187.79 L1262.52,187.47 L1263.05,187.16 L1263.58,186.84 L1264.10,186.53 L1264.63,186.22 L1265.16,185.92 L1265.69,185.61 L1266.22,185.31 L1266.75,185.01 L1267.28,184.71 L1267.81,184.41 L1268.34,184.11 L1268.87,183.82 L1269.40,183.53 L1269.93,183.23 L1270.46,182.94 L1270.99,182.66 L1271.52,182.37 L1272.05,182.08 L1272.58,181.80 L1273.11,181.52 L1273.64,181.24 L1274.17,180.96 L1274.70,180.68 L1275.23,180.41 L1275.76,180.14 L1276.29,179.86 L1276.81,179.59 L1277.34,179.32 L1277.87,179.06 L1278.40,178.79 L1278.93,178.53 L1279.46,178.26 L1279.99,178.00 L1280.52,177.74 L1281.05,177.48 L1281.58,177.23 L1282.11,176.97 L1282.64,176.72 L1283.17,176.47 L1283.70,176.22 L1284.23,175.97 L1284.76,175.72 L1285.29,175.47 L1285.82,175.23 L1286.35,174.98 L1286.88,174.74 L1287.41,174.50 L1287.94,174.26 L1288.47,174.02 L1289.00,173.79 L1289.52,173.55 L1290.05,173.32 L1290.58,173.09 L1291.11,172.86 L1291.64,172.63 L1292.17,172.40 L1292.70,172.18 L1293.23,171.95 L1293.76,171.73 L1294.29,171.50 L1294.82,171.28 L1295.35,171.06 L1295.88,170.85 L1296.41,170.63 L1296.94,170.41 L1297.47,170.20 L1298.00,169.99 L1298.53,169.78 L1299.06,169.57 L1299.59,169.36 L1300.12,169.15 L1300.65,168.94 L1301.18,168.74 L1301.71,168.54 L1302.23,168.33 L1302.76,168.13 L1303.29,167.93 L1303.82,167.73 L1304.35,167.54 L1304.88,167.34 L1305.41,167.15 L1305.94,166.96 L1306.47,166.76 L1307.00,166.57 L1307.53,166.38 L1308.06,166.20 L1308.59,166.01 L1309.12,165.82 L1309.65,165.64 L1310.18,165.46 L1310.71,165.27 L1311.24,165.09 L1311.77,164.91 L1312.30,164.74 L1312.83,164.56 L1313.36,164.38 L1313.89,164.21 L1314.42,164.04 L1314.94,163.86 L1315.47,163.69 L1316.00,163.52 L1316.53,163.36 L1317.06,163.19 L1317.59,163.02 L1318.12,162.86 L1318.65,162.70 L1319.18,162.53 L1319.71,162.37 L1320.24,162.21 L1320.77,162.05 L1321.30,161.90 L1321.83,161.74 L1322.36,161.58 L1322.89,161.43 L1323.42,161.28 L1323.95,161.13 L1324.48,160.98 L1325.01,160.83 L1325.54,160.68 L1326.07,160.53 L1326.60,160.38 L1327.12,160.24 L1327.65,160.10 L1328.18,159.95 L1328.71,159.81 L1329.24,159.67 L1329.77,159.53 L1330.30,159.39 L1330.83,159.26 L1331.36,159.12 L1331.89,158.99 L1332.42,158.85 L1332.95,158.72 L1333.48,158.59 L1334.01,158.46 L1334.54,158.33 L1335.07,158.20 L1335.60,158.08 L1336.13,157.95 L1336.66,157.83 L1337.19,157.70 L1337.72,157.58 L1338.25,157.46 L1338.78,157.34 L1339.31,157.22 L1339.84,157.10 L1340.36,156.99 L1340.89,156.87 L1341.42,156.75 L1341.95,156.64 L1342.48,156.53 L1343.01,156.42 L1343.54,156.31 L1344.07,156.20 L1344.60,156.09 L1345.13,155.98 L1345.66,155.88 L1346.19,155.77 L1346.72,155.67 L1347.25,155.56 L1347.78,155.46 L1348.31,155.36 L1348.84,155.26 L1349.37,155.16 L1349.90,155.06 L1350.43,154.97 L1350.96,154.87 L1351.49,154.78 L1352.02,154.68 L1352.55,154.59 L1353.07,154.50 L1353.60,154.41 L1354.13,154.32 L1354.66,154.23 L1355.19,154.15 L1355.72,154.06 L1356.25,153.97 L1356.78,153.89 L1357.31,153.81 L1357.84,153.73 L1358.37,153.64 L1358.90,153.56 L1359.43,153.49 L1359.96,153.41 L1360.49,153.33 L1361.02,153.25 L1361.55,153.18 L1362.08,153.11 L1362.61,153.03 L1363.14,152.96 L1363.67,152.89 L1364.20,152.82 L1364.73,152.75 L1365.26,152.68 L1365.78,152.62 L1366.31,152.55 L1366.84,152.49 L1367.37,152.42 L1367.90,152.36 L1368.43,152.30 L1368.96,152.24 L1369.49,152.18 L1370.02,152.12 L1370.55,152.06 L1371.08,152.01 L1371.61,151.95 L1372.14,151.90 L1372.67,151.84 L1373.20,151.79 L1373.73,151.74 L1374.26,151.69 L1374.79,151.64 L1375.32,151.59 L1375.85,151.54 L1376.38,151.49 L1376.91,151.45 L1377.44,151.40 L1377.97,151.36 L1378.49,151.32 L1379.02,151.28 L1379.55,151.23 L1380.08,151.20 L1380.61,151.16 L1381.14,151.12 L1381.67,151.08 L1382.20,151.05 L1382.73,151.01 L1383.26,150.98 L1383.79,150.94 L1384.32,150.91 L1384.85,150.88 L1385.38,150.85 L1385.91,150.82 L1386.44,150.80 L1386.97,150.77 L1387.50,150.74 L1388.03,150.72 L1388.56,150.69 L1389.09,150.67 L1389.62,150.65 L1390.15,150.63 L1390.67,150.61 L1391.20,150.59 L1391.73,150.57 L1392.26,150.55 L1392.79,150.54 L1393.32,150.52 L1393.85,150.51 L1394.38,150.49 L1394.91,150.48 L1395.44,150.47 L1395.97,150.46 L1396.50,150.45 L1397.03,150.44 L1397.56,150.44 L1398.09,150.43 L1398.62,150.42 L1399.15,150.42 L1399.68,150.42 L1400.21,150.41 L1400.74,150.41 L1401.27,150.41 L1401.80,150.41 L1402.33,150.41 L1402.86,150.42 L1403.38,150.42 L1403.91,150.42 L1404.44,150.43 L1404.97,150.44 L1405.50,150.44 L1406.03,150.45 L1406.56,150.46 L1407.09,150.47 L1407.62,150.48 L1408.15,150.49 L1408.68,150.51 L1409.21,150.52 L1409.74,150.54 L1410.27,150.55 L1410.80,150.57 L1411.33,150.59 L1411.86,150.61 L1412.39,150.63 L1412.92,150.65 L1413.45,150.67 L1413.98,150.69 L1414.51,150.72 L1415.04,150.74 L1415.57,150.77 L1416.10,150.80 L1416.62,150.82 L1417.15,150.85 L1417.68,150.88 L1418.21,150.91 L1418.74,150.94 L1419.27,150.98 L1419.80,151.01 L1420.33,151.05 L1420.86,151.08 L1421.39,151.12 L1421.92,151.16 L1422.45,151.20 L1422.98,151.23 L1423.51,151.28 L1424.04,151.32 L1424.57,151.36 L1425.10,151.40 L1425.63,151.45 L1426.16,151.49 L1426.69,151.54 L1427.22,151.59 L1427.75,151.64 L1428.28,151.69 L1428.81,151.74 L1429.33,151.79 L1429.86,151.84 L1430.39,151.90 L1430.92,151.95 L1431.45,152.01 L1431.98,152.06 L1432.51,152.12 L1433.04,152.18 L1433.57,152.24 L1434.10,152.30 L1434.63,152.36 L1435.16,152.42 L1435.69,152.49 L1436.22,152.55 L1436.75,152.62 L1437.28,152.68 L1437.81,152.75 L1438.34,152.82 L1438.87,152.89 L1439.40,152.96 L1439.93,153.03 L1440.46,153.11 L1440.99,153.18 L1441.52,153.25 L1442.04,153.33 L1442.57,153.41 L1443.10,153.49 L1443.63,153.56 L1444.16,153.64 L1444.69,153.73 L1445.22,153.81 L1445.75,153.89 L1446.28,153.97 L1446.81,154.06 L1447.34,154.15 L1447.87,154.23 L1448.40,154.32 L1448.93,154.41 L1449.46,154.50 L1449.99,154.59 L1450.52,154.68 L1451.05,154.78 L1451.58,154.87 L1452.11,154.97 L1452.64,155.06 L1453.17,155.16 L1453.70,155.26 L1454.22,155.36 L1454.75,155.46 L1455.28,155.56 L1455.81,155.67 L1456.34,155.77 L1456.87,155.88 L1457.40,155.98 L1457.93,156.09 L1458.46,156.20 L1458.99,156.31 L1459.52,156.42 L1460.05,156.53 L1460.58,156.64 L1461.11,156.75 L1461.64,156.87 L1462.17,156.99 L1462.70,157.10 L1463.23,157.22 L1463.76,157.34 L1464.29,157.46 L1464.82,157.58 L1465.35,157.70 L1465.88,157.83 L1466.41,157.95 L1466.93,158.08 L1467.46,158.20 L1467.99,158.33 L1468.52,158.46 L1469.05,158.59 L1469.58,158.72 L1470.11,158.85 L1470.64,158.99 L1471.17,159.12 L1471.70,159.26 L1472.23,159.39 L1472.76,159.53 L1473.29,159.67 L1473.82,159.81 L1474.35,159.95 L1474.88,160.10 L1475.41,160.24 L1475.94,160.38 L1476.47,160.53 L1477.00,160.68 L1477.53,160.83 L1478.06,160.98 L1478.59,161.13 L1479.12,161.28 L1479.64,161.43 L1480.17,161.58 L1480.70,161.74 L1481.23,161.90 L1481.76,162.05 L1482.29,162.21 L1482.82,162.37 L1483.35,162.53 L1483.88,162.70 L1484.41,162.86 L1484.94,163.02 L1485.47,163.19 L1486.00,163.36" fill="none" stroke="#ff0000" stroke-width="7.0" stroke-linecap="round" stroke-linejoin="round"/>
<path d="M231.95,150.37 L235.09,150.47 L238.23,150.60 L241.38,150.76 L244.52,150.96 L247.66,151.18 L250.80,151.44 L253.95,151.72 L257.09,152.02 L260.23,152.35 L263.38,152.71 L266.52,153.08 L269.66,153.47 L272.81,153.88 L275.95,154.31 L279.09,154.76 L282.23,155.22 L285.38,155.70 L288.52,156.20 L291.66,156.71 L294.81,157.23 L297.95,157.77 L301.09,158.32 L304.24,158.88 L307.38,159.46 L310.52,160.05 L313.66,160.66 L316.81,161.28 L319.95,161.91 L323.09,162.55 L326.24,163.21 L329.38,163.89 L332.52,164.57 L335.67,165.27 L338.81,165.99 L341.95,166.72 L345.09,167.47 L348.24,168.23 L351.38,169.01 L354.52,169.80 L357.67,170.61 L360.81,171.44 L363.95,172.29 L367.10,173.15 L370.24,174.04 L373.38,174.94 L376.52,175.86 L379.67,176.81 L382.81,177.77 L385.95,178.76 L389.10,179.77 L392.24,180.80 L395.38,181.85 L398.53,182.93 L401.67,184.03 L404.81,185.15 L407.95,186.30 L411.10,187.48 L414.24,188.68 L417.38,189.91 L420.53,191.16 L423.67,192.44 L426.81,193.75 L429.96,195.09 L433.10,196.46 L436.24,197.86 L439.38,199.28 L442.53,200.74 L445.67,202.22 L448.81,203.74 L451.96,205.28 L455.10,206.86 L458.24,208.47 L461.38,210.11 L464.53,211.79 L467.67,213.49 L470.81,215.23 L473.96,217.00 L477.10,218.80 L480.24,220.64 L483.39,222.51 L486.53,224.41 L489.67,226.35 L492.81,228.32 L495.96,230.32 L499.10,232.36 L502.24,234.43 L505.39,236.53 L508.53,238.67 L511.67,240.84 L514.82,243.05 L517.96,245.29 L521.10,247.56 L524.24,249.86 L527.39,252.20 L530.53,254.58 L533.67,256.98 L536.82,259.42 L539.96,261.89 L543.10,264.39 L546.25,266.93 L549.39,269.50 L552.53,272.10 L555.67,274.73 L558.82,277.39 L561.96,280.09 L565.10,282.81 L568.25,285.57 L571.39,288.35 L574.53,291.16 L577.68,294.01 L580.82,296.88 L583.96,299.78 L587.10,302.71 L590.25,305.67 L593.39,308.66 L596.53,311.67 L599.68,314.70 L602.82,317.77 L605.96,320.86 L609.11,323.97 L612.25,327.11 L615.39,330.28 L618.53,333.46 L621.68,336.67 L624.82,339.91 L627.96,343.16 L631.11,346.44 L634.25,349.74 L637.39,353.05 L640.54,356.39 L643.68,359.75 L646.82,363.13 L649.96,366.52 L653.11,369.93 L656.25,373.36 L659.39,376.81 L662.54,380.27 L665.68,383.75 L668.82,387.24 L671.97,390.75 L675.11,394.27 L678.25,397.80 L681.39,401.35 L684.54,404.91 L687.68,408.48 L690.82,412.06 L693.97,415.65 L697.11,419.25 L700.25,422.86 L703.40,426.48 L706.54,430.11 L709.68,433.75 L712.82,437.39 L715.97,441.04 L719.11,444.69 L722.25,448.35 L725.40,452.01 L728.54,455.68 L731.68,459.36 L734.83,463.03 L737.97,466.71 L741.11,470.39 L744.25,474.07 L747.40,477.76 L750.54,481.44 L753.68,485.13 L756.83,488.81 L759.97,492.50 L763.11,496.18 L766.26,499.86 L769.40,503.54 L772.54,507.22 L775.68,510.90 L778.83,514.57 L781.97,518.24 L785.11,521.90 L788.26,525.56 L791.40,529.21 L794.54,532.86 L797.69,536.51 L800.83,540.15 L803.97,543.78 L807.11,547.40 L810.26,551.02 L813.40,554.63 L816.54,558.24 L819.69,561.83 L822.83,565.42 L825.97,569.00 L829.11,572.57 L832.26,576.13 L835.40,579.69 L838.54,583.23 L841.69,586.77 L844.83,590.29 L847.97,593.80 L851.12,597.31 L854.26,600.80 L857.40,604.29 L860.54,607.76 L863.69,611.22 L866.83,614.67 L869.97,618.11 L873.12,621.54 L876.26,624.96 L879.40,628.36 L882.55,631.76 L885.69,635.14 L888.83,638.51 L891.97,641.87 L895.12,645.22 L898.26,648.55 L901.40,651.87 L904.55,655.19 L907.69,658.48 L910.83,661.77 L913.98,665.05 L917.12,668.31 L920.26,671.56 L923.40,674.80 L926.55,678.02 L929.69,681.24 L932.83,684.44 L935.98,687.63 L939.12,690.81 L942.26,693.98 L945.41,697.13 L948.55,700.27 L951.69,703.40 L954.83,706.52 L957.98,709.63 L961.12,712.73 L964.26,715.81 L967.41,718.89 L970.55,721.95 L973.69,725.00 L976.84,728.04 L979.98,731.07 L983.12,734.09 L986.26,737.09 L989.41,740.09 L992.55,743.08 L995.69,746.06 L998.84,749.02 L1001.98,751.98 L1005.12,754.92 L1008.27,757.86 L1011.41,760.79 L1014.55,763.70 L1017.69,766.61 L1020.84,769.51 L1023.98,772.40 L1027.12,775.28 L1030.27,778.15 L1033.41,781.02 L1036.55,783.87 L1039.70,786.72 L1042.84,789.55 L1045.98,792.38 L1049.12,795.20 L1052.27,798.02 L1055.41,800.82 L1058.55,803.62 L1061.70,806.41 L1064.84,809.19 L1067.98,811.97 L1071.13,814.74 L1074.27,817.50 L1077.41,820.25 L1080.55,823.00 L1083.70,825.74 L1086.84,828.48 L1089.98,831.21 L1093.13,833.93 L1096.27,836.64 L1099.41,839.35 L1102.56,842.05 L1105.70,844.75 L1108.84,847.44 L1111.98,850.13 L1115.13,852.81 L1118.27,855.48 L1121.41,858.15 L1124.56,860.81 L1127.70,863.47 L1130.84,866.12 L1133.99,868.77 L1137.13,871.41 L1140.27,874.04 L1143.41,876.67 L1146.56,879.30 L1149.70,881.92 L1152.84,884.53 L1155.99,887.14 L1159.13,889.74 L1162.27,892.34 L1165.41,894.93 L1168.56,897.52 L1171.70,900.10 L1174.84,902.68 L1177.99,905.25 L1181.13,907.82 L1184.27,910.38 L1187.42,912.93 L1190.56,915.48 L1193.70,918.03 L1196.84,920.56 L1199.99,923.10 L1203.13,925.62 L1206.27,928.14 L1209.42,930.66 L1212.56,933.17 L1215.70,935.67 L1218.85,938.17 L1221.99,940.66 L1225.13,943.15 L1228.27,945.62 L1231.42,948.10 L1234.56,950.56 L1237.70,953.02 L1240.85,955.47 L1243.99,957.92 L1247.13,960.35 L1250.28,962.79 L1253.42,965.21 L1256.56,967.63 L1259.70,970.03 L1262.85,972.44 L1265.99,974.83 L1269.13,977.22 L1272.28,979.59 L1275.42,981.96 L1278.56,984.33 L1281.71,986.68 L1284.85,989.03 L1287.99,991.37 L1291.13,993.69 L1294.28,996.02 L1297.42,998.33 L1300.56,1000.63 L1303.71,1002.93 L1306.85,1005.21 L1309.99,1007.49 L1313.14,1009.76 L1316.28,1012.02 L1319.42,1014.27 L1322.56,1016.51 L1325.71,1018.74 L1328.85,1020.96 L1331.99,1023.17 L1335.14,1025.38 L1338.28,1027.57 L1341.42,1029.76 L1344.57,1031.94 L1347.71,1034.10 L1350.85,1036.26 L1353.99,1038.41 L1357.14,1040.55 L1360.28,1042.68 L1363.42,1044.81 L1366.57,1046.92 L1369.71,1049.03 L1372.85,1051.12 L1376.00,1053.21 L1379.14,1055.29 L1382.28,1057.37 L1385.42,1059.43 L1388.57,1061.49 L1391.71,1063.54 L1394.85,1065.59 L1398.00,1067.63 L1401.14,1069.66 L1404.28,1071.68 L1407.43,1073.70 L1410.57,1075.72 L1413.71,1077.73 L1416.85,1079.73 L1420.00,1081.73 L1423.14,1083.73 L1426.28,1085.73 L1429.43,1087.72 L1432.57,1089.71 L1435.71,1091.70 L1438.86,1093.69 L1442.00,1095.68 L1445.14,1097.67 L1448.28,1099.66 L1451.43,1101.65 L1454.57,1103.64 L1457.71,1105.64 L1460.86,1107.64 L1464.00,1109.65 L1467.14,1111.67 L1470.29,1113.69 L1473.43,1115.71 L1476.57,1117.75 L1479.71,1119.80 L1482.86,1121.86 L1486.00,1123.93" fill="none" stroke="#0072bd" stroke-width="7.0" stroke-linecap="round" stroke-linejoin="round"/>
<rect x="903.8" y="980.5" width="567.7" height="155.8" fill="#fff" stroke="#1a1a1a" stroke-width="1.3"/>
<line x1="911.5" y1="1023" x2="1137.2" y2="1023" stroke="#ff0000" stroke-width="5.6" stroke-linecap="round"/>
<line x1="911.5" y1="1108" x2="1137.2" y2="1108" stroke="#4472c4" stroke-width="5.6" stroke-linecap="round"/>
<text x="1142" y="1124" font-family="'Liberation Serif', 'Times New Roman', serif" font-size="50" fill="#000">Channel+CTLE</text>
<text transform="translate(1184.8,1044.5) scale(0.82,1.05)" font-family="'Liberation Serif', 'Times New Roman', serif" font-size="59" fill="#000">1</text>
<text x="1215.1" y="1051.1" font-family="'Liberation Serif', 'Times New Roman', serif" font-size="67.5" fill="#000">+</text>
<text x="1264.5" y="1044.5" font-family="'Liberation Serif', 'Times New Roman', serif" font-size="58" font-style="italic" fill="#000">z</text>
<text x="1291.5" y="1018.5" font-family="'Liberation Serif', 'Times New Roman', serif" font-size="33" fill="#000">−1</text>
<line x1="510" y1="46.0" x2="510" y2="1257.9" stroke="#c55a11" stroke-width="5.5" stroke-linecap="round" stroke-dasharray="34.5 25.5"/>
<g font-family="'Liberation Sans', Arial, sans-serif" font-size="62.3" fill="#262626">
<text transform="translate(192.6,174.6) scale(1,1.022)" text-anchor="end">0</text>
<text transform="translate(192.6,422.9) scale(1,1.022)" text-anchor="end">-20</text>
<text transform="translate(192.6,671.1) scale(1,1.022)" text-anchor="end">-40</text>
<text transform="translate(192.6,919.4) scale(1,1.022)" text-anchor="end">-60</text>
<text transform="translate(192.6,1167.6) scale(1,1.022)" text-anchor="end">-80</text>
<text transform="translate(213.4,1228.6) scale(1,1.022)" text-anchor="middle">0</text>
<text transform="translate(425.2,1228.6) scale(1,1.022)" text-anchor="middle">20</text>
<text transform="translate(637.1,1228.6) scale(1,1.022)" text-anchor="middle">40</text>
<text transform="translate(848.9,1228.6) scale(1,1.022)" text-anchor="middle">60</text>
<text transform="translate(1060.7,1228.6) scale(1,1.022)" text-anchor="middle">80</text>
<text transform="translate(1271.1,1228.6) scale(1,1.022)" text-anchor="middle">100</text>
<text transform="translate(1482.9,1228.6) scale(1,1.022)" text-anchor="middle">120</text>
</g>
<text x="758.7" y="1322.8" font-family="'Liberation Serif', 'Times New Roman', serif" font-size="60" fill="#000">Freq(GHz)</text>
<text transform="translate(78.8,843.6) rotate(-90) scale(1,1.03)" font-family="'Liberation Serif', 'Times New Roman', serif" font-size="60" fill="#000">Amplitude(dB)</text>
<text transform="translate(445.1,1318.1) skewX(-17)" font-family="'Liberation Serif', 'Times New Roman', serif" font-size="79" font-style="italic" fill="#000">f</text>
<text x="482" y="1339.2" font-family="'Liberation Serif', 'Times New Roman', serif" font-size="47.5" font-style="italic" fill="#000">Nyq</text>
</svg>
</body></html>
